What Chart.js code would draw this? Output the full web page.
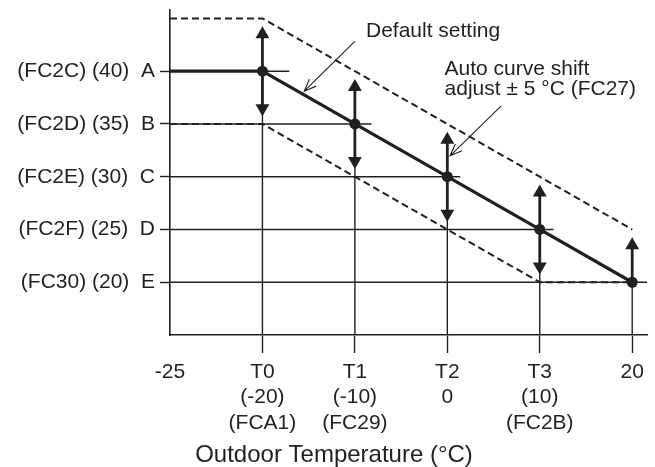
<!DOCTYPE html>
<html>
<head>
<meta charset="utf-8">
<script src="https://cdn.jsdelivr.net/npm/chart.js@4"></script>
<style>
  html, body { margin: 0; padding: 0; background: #fff; }
  #wrap { width: 655px; height: 467px; position: relative; }
</style>
</head>
<body>
<div id="wrap"><canvas id="curveChart"></canvas></div>
<script>
/* Water temperature curve chart */
const INK = '#231f20';
const FONT = "'Liberation Sans', Arial, Helvetica, sans-serif";

// x positions are evenly spaced steps, labelled with the set points
const xLabels = [['-25'], ['T0', '(-20)', '(FCA1)'], ['T1', '(-10)', '(FC29)'], ['T2', '0'], ['T3', '(10)', '(FC2B)'], ['20']];
const xSteps = [0, 1, 2, 3, 4, 5];

// y levels
const levelValues = [40, 35, 30, 25, 20];
const levelCodes = ['(FC2C)', '(FC2D)', '(FC2E)', '(FC2F)', '(FC30)'];
const levelLetters = ['A', 'B', 'C', 'D', 'E'];
const levelLineEnds = [1.29, 2.18, 3.14, 4.15, 5.16];

// curves, one value per x step
const defaultCurve = [40, 40, 35, 30, 25, 20];
const upperCurve = [45, 45, 40, 35, 30, 25];
const lowerCurve = [35, 35, 30, 25, 20, 20];

// shift arrows on the curve points
const arrowUpSteps = [1, 2, 3, 4, 5];
const arrowDownSteps = [1, 2, 3, 4];
const arrowLen = 3.5;

const toPts = arr => arr.map((y, i) => ({ x: xSteps[i], y: y }));

const datasets = [];

// main curve with dots
datasets.push({
    data: toPts(defaultCurve),
    borderColor: INK, borderWidth: 3.2,
    pointRadius: ctx => ctx.dataIndex === 0 ? 0 : 5.5,
    pointBackgroundColor: INK, pointBorderWidth: 0,
    order: 0
});

// arrows
arrowUpSteps.forEach(s => datasets.push({
    data: [{ x: s, y: defaultCurve[s] }, { x: s, y: defaultCurve[s] + arrowLen }],
    borderColor: INK, borderWidth: 2.8,
    pointStyle: 'triangle', pointRadius: [0, 8], pointRotation: 0,
    pointBackgroundColor: INK, pointBorderWidth: 0,
    order: 1
}));
arrowDownSteps.forEach(s => datasets.push({
    data: [{ x: s, y: defaultCurve[s] }, { x: s, y: defaultCurve[s] - arrowLen }],
    borderColor: INK, borderWidth: 2.8,
    pointStyle: 'triangle', pointRadius: [0, 8], pointRotation: 180,
    pointBackgroundColor: INK, pointBorderWidth: 0,
    order: 1
}));

// shifted limits (dashed)
[upperCurve, lowerCurve].forEach(c => datasets.push({
    data: toPts(c),
    borderColor: INK, borderWidth: 2, borderDash: [7, 4],
    pointRadius: 0, order: 2
}));

// level lines and vertical lines
levelValues.forEach((v, i) => datasets.push({
    data: [{ x: 0, y: v }, { x: levelLineEnds[i], y: v }],
    borderColor: INK, borderWidth: 1.4, pointRadius: 0, order: 3
}));
xSteps.slice(1).forEach(s => datasets.push({
    data: [{ x: s, y: 15 }, { x: s, y: defaultCurve[s] }],
    borderColor: INK, borderWidth: 1.4, pointRadius: 0, order: 3
}));

// leader lines for the notes, in data units
const notes = [
    { lines: ['Default setting'], at: [2.12, 43.8], from: [2.0, 42.83], to: [1.452, 38.11] },
    { lines: ['Auto curve shift', 'adjust \u00b1 5 \u00b0C (FC27)'], at: [2.97, 40.2], from: [3.58, 36.7], to: [3.03, 31.98] }
];

const notesPlugin = {
    id: 'notes',
    afterDatasetsDraw(chart) {
        const { ctx, scales: { x, y }, chartArea } = chart;
        ctx.save();
        ctx.fillStyle = INK;
        ctx.strokeStyle = INK;
        ctx.font = '21px ' + FONT;
        ctx.textBaseline = 'middle';
        ctx.textAlign = 'left';
        notes.forEach(n => {
            const tx = x.getPixelForValue(n.at[0]);
            const ty = y.getPixelForValue(n.at[1]);
            n.lines.forEach((l, i) => ctx.fillText(l, tx, ty + i * 20));
            const x1 = x.getPixelForValue(n.from[0]), y1 = y.getPixelForValue(n.from[1]);
            const x2 = x.getPixelForValue(n.to[0]), y2 = y.getPixelForValue(n.to[1]);
            ctx.lineWidth = 1.1;
            ctx.beginPath();
            ctx.moveTo(x1, y1);
            ctx.lineTo(x2, y2);
            const a = Math.atan2(y1 - y2, x1 - x2);
            const h = 13, w = 0.38;
            ctx.moveTo(x2 + h * Math.cos(a - w), y2 + h * Math.sin(a - w));
            ctx.lineTo(x2, y2);
            ctx.lineTo(x2 + h * Math.cos(a + w), y2 + h * Math.sin(a + w));
            ctx.stroke();
        });
        // axis title
        ctx.font = '24px ' + FONT;
        ctx.textAlign = 'center';
        ctx.fillText('Outdoor Temperature (\u00b0C)', chartArea.left + 164, chartArea.bottom + 120);
        ctx.restore();
    }
};

Chart.defaults.font.family = FONT;
Chart.defaults.color = INK;

new Chart(document.getElementById('curveChart'), {
    type: 'line',
    data: { datasets: datasets },
    plugins: [notesPlugin],
    options: {
        responsive: true,
        maintainAspectRatio: false,
        animation: false,
        layout: { padding: { top: 10, right: 5, left: 0, bottom: 0 } },
        elements: { line: { tension: 0, capBezierPoints: false } },
        plugins: { legend: { display: false }, tooltip: { enabled: false } },
        datasets: { line: { clip: false, fill: false } },
        scales: {
            x: {
                type: 'linear', min: 0, max: 5.16,
                afterBuildTicks: s => { s.ticks = xSteps.map(v => ({ value: v })); },
                afterFit: s => { s.height = 132; s.paddingLeft = 0; s.paddingRight = 0; },
                grid: {
                    drawOnChartArea: false, tickLength: 18, tickWidth: 1.4,
                    tickColor: c => c.index === 0 ? 'rgba(0,0,0,0)' : INK
                },
                border: { color: INK, width: 1.6 },
                ticks: {
                    font: { size: 21, lineHeight: 1.214 }, padding: 6, maxRotation: 0, autoSkip: false,
                    callback: (v) => xLabels[xSteps.indexOf(v)]
                }
            },
            y: {
                type: 'linear', min: 15, max: 45.8,
                afterBuildTicks: s => { s.ticks = levelValues.map(v => ({ value: v })); },
                afterFit: s => { s.width = 170; s.paddingTop = 0; s.paddingBottom = 0; },
                grid: { drawOnChartArea: false, tickLength: 10, tickWidth: 1.4, tickColor: INK },
                border: { color: INK, width: 1.6 },
                ticks: {
                    font: { size: 21 }, padding: 5, autoSkip: false,
                    callback: (v) => {
                        const i = levelValues.indexOf(v);
                        return `${levelCodes[i]} (${v})  ${levelLetters[i]}`;
                    }
                }
            }
        }
    }
});
</script>
</body>
</html>
